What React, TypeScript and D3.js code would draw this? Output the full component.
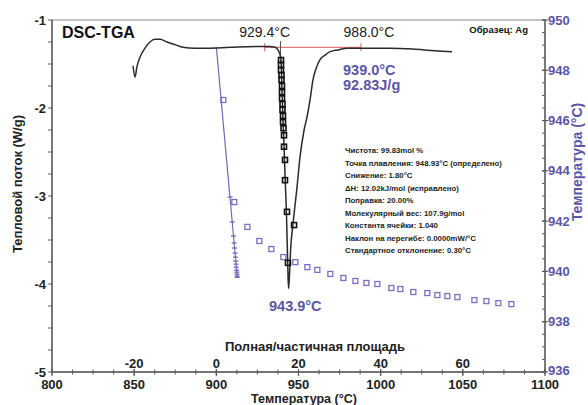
import * as d3 from 'd3';

// tick labels
const TEMP_TICKS = [800, 850, 900, 950, 1000, 1050, 1100];
const AREA_TICKS = [-20, 0, 20, 40, 60];
const FLOW_TICKS = [-1, -2, -3, -4, -5];
const RIGHT_TICKS = [950, 948, 946, 944, 942, 940, 938, 936];

// DSC heat flow curve (°C, W/g)
const dscTemp = [849.3, 850.5, 851.7, 853.6, 856.6, 859.6, 862.7, 865.7, 870, 874.9, 879.7, 887, 894.3, 908.3, 926.6, 932.7, 935.7, 937.5, 938.7, 939.35, 939.96, 940.57, 941.18, 941.79, 942.7, 943.3, 943.7, 944.0, 944.5, 945.2, 946.7, 949.1, 950.9, 953.4, 955.2, 957.0, 958.8, 960.7, 963.1, 966.1, 969.2, 974.0, 979.5, 989.3, 1005.7, 1019.7, 1033.1, 1043.4];
const dscFlow = [-1.52, -1.65, -1.53, -1.42, -1.32, -1.25, -1.22, -1.22, -1.25, -1.28, -1.31, -1.32, -1.32, -1.31, -1.3, -1.3, -1.31, -1.34, -1.39, -1.455, -1.8, -2.14, -2.42, -2.76, -3.22, -3.67, -3.95, -4.05, -3.9, -3.61, -3.31, -2.9, -2.56, -2.25, -2.1, -1.91, -1.68, -1.55, -1.45, -1.4, -1.36, -1.34, -1.32, -1.32, -1.32, -1.33, -1.35, -1.36];

// partial-area points on the peak (°C, W/g)
const partTemp = [939.35, 939.35, 939.35, 939.66, 939.66, 939.96, 939.96, 939.96, 940.27, 940.27, 940.57, 940.57, 940.88, 941.18, 941.18, 941.79, 941.79, 943.0, 947.3, 943.6];
const partFlow = [-1.455, -1.51, -1.57, -1.625, -1.68, -1.75, -1.82, -1.89, -1.955, -2.02, -2.09, -2.16, -2.23, -2.31, -2.44, -2.59, -2.82, -3.18, -3.33, -3.76];

// purity plot: total/partial area vs sample temperature
const purityArea = [1.7, 4.38, 7.55, 10.47, 13.39, 16.31, 19.23, 22.15, 24.59, 27.75, 30.92, 33.84, 36.52, 39.19, 42.6, 44.79, 47.95, 51.36, 53.8, 56.23, 58.67, 62.81, 65.73, 68.65, 71.81];
const purityTemp = [946.82, 942.76, 941.77, 941.21, 940.89, 940.57, 940.37, 940.17, 940.06, 939.9, 939.74, 939.62, 939.54, 939.5, 939.34, 939.3, 939.18, 939.14, 939.06, 939.02, 938.98, 938.86, 938.82, 938.74, 938.7];

// corrected points on the fit line
const corrArea = [3.32, 3.87, 4.18, 4.33, 4.44, 4.56, 4.64, 4.73, 4.8, 4.87, 4.93, 4.98, 5.02, 5.07, 5.09];
const corrTemp = [942.96, 941.97, 941.41, 941.13, 940.93, 940.73, 940.57, 940.41, 940.29, 940.17, 940.05, 939.97, 939.89, 939.81, 939.77];

// linear fit
const fitArea = [0, 5.1];
const fitTemp = [948.93, 939.74];

// integration baseline
const baseTemp = [929.4, 988.0];
const baseFlow = -1.31;
const onsetTemp = 939.0;

const infoLines = [
  'Чистота: 99.83mol %',
  'Точка плавления: 948.93°C (определено)',
  'Снижение: 1.80°C',
  'ΔH: 12.02kJ/mol (исправлено)',
  'Поправка: 20.00%',
  'Молекулярный вес: 107.9g/mol',
  'Константа ячейки: 1.040',
  'Наклон на перегибе: 0.0000mW/°C',
  'Стандартное отклонение: 0.30°C',
];

const WIDTH = 588;
const HEIGHT = 405;
const PLOT = { left: 52, right: 545, top: 20, bottom: 372 };

const AXIS = '#5a5a5a';
const PURPLE = '#5b55a8';
const SQUARE = '#7a70c2';
const FONT = 'Liberation Sans, Arial, sans-serif';

export default function App() {
  const x = d3.scaleLinear().domain([800, 1100]).range([PLOT.left, PLOT.right]);
  const xa = d3.scaleLinear().domain([-40, 80]).range([PLOT.left, PLOT.right]);
  const y = d3.scaleLinear().domain([-5, -1]).range([PLOT.bottom, PLOT.top]);
  const yr = d3.scaleLinear().domain([936, 950]).range([PLOT.bottom, PLOT.top]);

  const dscLine = d3
    .line<number>()
    .x((d) => x(d))
    .y((_, i) => y(dscFlow[i]))
    .curve(d3.curveMonotoneX)(dscTemp);

  const minorBottom = d3.range(800, 1100.01, 12.5);
  const minorLeft = d3.range(-5, -0.99, 0.25);
  const minorRight = d3.range(936, 950.01, 0.5);

  return (
    <svg width={WIDTH} height={HEIGHT} style={{ position: 'absolute', left: 0, top: 0, background: '#fff' }} fontFamily={FONT}>
      {/* frame */}
      <rect x={PLOT.left} y={PLOT.top} width={PLOT.right - PLOT.left} height={PLOT.bottom - PLOT.top} fill="none" stroke="#8a8a8a" strokeWidth={1} />
      <line x1={PLOT.left} x2={PLOT.left} y1={PLOT.top} y2={PLOT.bottom} stroke={AXIS} strokeWidth={1.4} />
      <line x1={PLOT.right} x2={PLOT.right} y1={PLOT.top} y2={PLOT.bottom} stroke={AXIS} strokeWidth={1.4} />
      <line x1={PLOT.left} x2={PLOT.right} y1={PLOT.bottom} y2={PLOT.bottom} stroke={AXIS} strokeWidth={1.4} />

      {/* bottom ticks */}
      {minorBottom.map((t) => (
        <line key={'mb' + t} x1={x(t)} x2={x(t)} y1={PLOT.bottom - 2.5} y2={PLOT.bottom + 2.5} stroke={AXIS} strokeWidth={1} />
      ))}
      {TEMP_TICKS.map((t) => (
        <g key={'tb' + t}>
          <line x1={x(t)} x2={x(t)} y1={PLOT.bottom - 3} y2={PLOT.bottom + 4} stroke={AXIS} strokeWidth={1.2} />
          <text x={x(t)} y={389} textAnchor="middle" fontSize={13} fontWeight="bold" fill="#222">
            {t}
          </text>
        </g>
      ))}
      {AREA_TICKS.map((a) => (
        <text key={'ta' + a} x={xa(a)} y={368} textAnchor="middle" fontSize={13} fontWeight="bold" fill="#222">
          {a}
        </text>
      ))}
      <text x={315} y={351} textAnchor="middle" fontSize={13} fontWeight="bold" fill="#222">
        Полная/частичная площадь
      </text>
      <text x={304} y={403} textAnchor="middle" fontSize={12.5} fontWeight="bold" fill="#222">
        Температура (°C)
      </text>

      {/* left axis */}
      {minorLeft.map((v) => (
        <line key={'ml' + v} x1={PLOT.left - 4} x2={PLOT.left} y1={y(v)} y2={y(v)} stroke={AXIS} strokeWidth={1} />
      ))}
      {FLOW_TICKS.map((v) => (
        <text key={'tl' + v} x={46} y={y(v) + 4.5} textAnchor="end" fontSize={13} fontWeight="bold" fill="#222">
          {v}
        </text>
      ))}
      <text transform={`translate(19,184) rotate(-90)`} textAnchor="middle" fontSize={13} fontWeight="bold" fill="#222" dominantBaseline="middle">
        Тепловой поток (W/g)
      </text>

      {/* right axis */}
      {minorRight.map((v) => (
        <line key={'mr' + v} x1={PLOT.right - 3} x2={PLOT.right} y1={yr(v)} y2={yr(v)} stroke={AXIS} strokeWidth={1} />
      ))}
      {RIGHT_TICKS.map((v) => (
        <g key={'tr' + v}>
          <line x1={PLOT.right - 3} x2={PLOT.right + 3} y1={yr(v)} y2={yr(v)} stroke={AXIS} strokeWidth={1.2} />
          <text x={548} y={yr(v) + (v === 936 ? 2.5 : 4.5)} fontSize={13} fontWeight="bold" fill={PURPLE}>
            {v}
          </text>
        </g>
      ))}
      <text transform={`translate(578,162) rotate(-90)`} textAnchor="middle" fontSize={14} fontWeight="bold" fill={PURPLE} dominantBaseline="middle">
        Температура (°C)
      </text>

      {/* integration baseline */}
      <line x1={x(baseTemp[0])} x2={x(baseTemp[1])} y1={y(baseFlow)} y2={y(baseFlow)} stroke="#e57a7a" strokeWidth={1.3} />
      {baseTemp.map((t) => (
        <line key={'bt' + t} x1={x(t)} x2={x(t)} y1={y(baseFlow) - 4} y2={y(baseFlow) + 4} stroke="#e57a7a" strokeWidth={1.2} />
      ))}
      <line x1={x(onsetTemp)} x2={x(onsetTemp)} y1={y(-1.24)} y2={y(-1.5)} stroke="#444" strokeWidth={1} />

      {/* fit line */}
      <line x1={xa(fitArea[0])} x2={xa(fitArea[1])} y1={yr(fitTemp[0])} y2={yr(fitTemp[1])} stroke="#7468b8" strokeWidth={1.2} />
      {corrArea.map((a, i) => (
        <line key={'c' + i} x1={xa(a) - 2.5} x2={xa(a) + 2.5} y1={yr(corrTemp[i])} y2={yr(corrTemp[i])} stroke="#6a60b0" strokeWidth={1.2} />
      ))}
      {purityArea.map((a, i) => (
        <rect key={'p' + i} x={xa(a) - 2.5} y={yr(purityTemp[i]) - 2.5} width={5} height={5} fill="none" stroke={SQUARE} strokeWidth={1.3} />
      ))}

      {/* DSC curve */}
      <path d={dscLine ?? ''} fill="none" stroke="#2a2a2a" strokeWidth={1.5} />
      {partTemp.map((t, i) => (
        <rect key={'s' + i} x={x(t) - 2.5} y={y(partFlow[i]) - 2.5} width={5} height={5} fill="none" stroke="#111" strokeWidth={1.6} />
      ))}

      {/* annotations */}
      <text x={62} y={38} fontSize={16} fontWeight="bold" fill="#111">
        DSC-TGA
      </text>
      <text x={528} y={33} textAnchor="end" fontSize={9.5} fontWeight="bold" fill="#111">
        Образец: Ag
      </text>
      <text x={x(baseTemp[0])} y={37} textAnchor="middle" fontSize={14} fill="#222">
        929.4°C
      </text>
      <text x={x(baseTemp[1]) + 8} y={37} textAnchor="middle" fontSize={14} fill="#222">
        988.0°C
      </text>
      <text x={343} y={75} fontSize={14.5} fontWeight="bold" fill={PURPLE}>
        939.0°C
      </text>
      <text x={343} y={90} fontSize={14.5} fontWeight="bold" fill={PURPLE}>
        92.83J/g
      </text>
      <text x={269} y={311} fontSize={14.5} fontWeight="bold" fill={PURPLE}>
        943.9°C
      </text>
      {infoLines.map((s, i) => (
        <text key={'i' + i} x={345} y={153 + i * 12.5} fontSize={7.8} fontWeight="bold" fill="#222">
          {s}
        </text>
      ))}
    </svg>
  );
}
